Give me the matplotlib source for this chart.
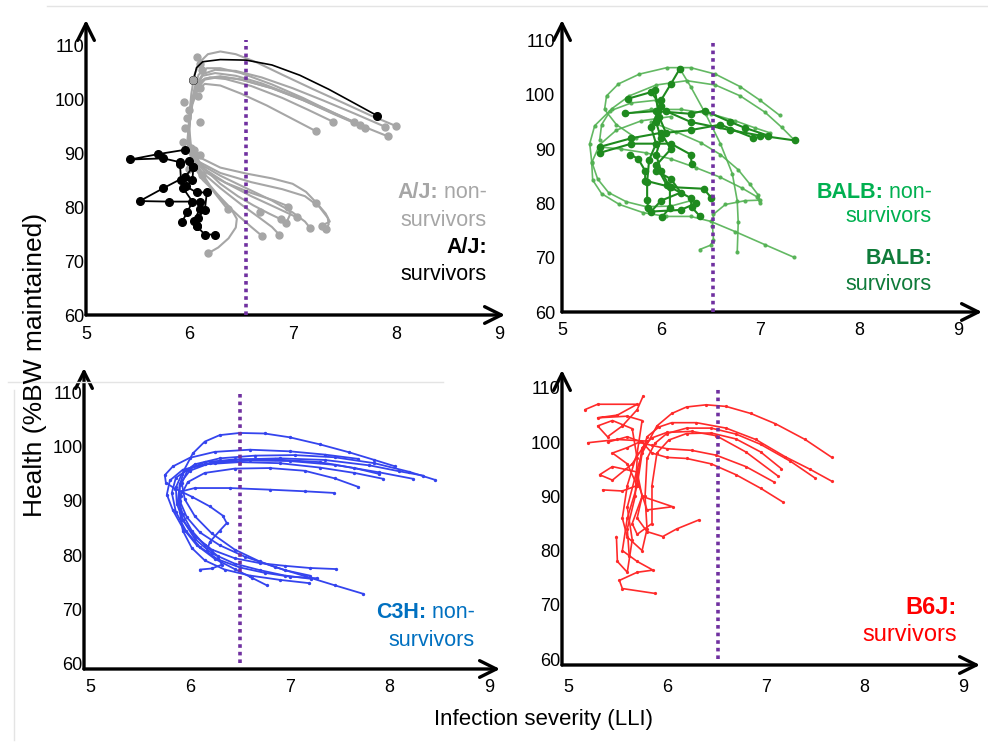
import matplotlib.pyplot as plt

plt.rcParams['font.family'] = ['Liberation Sans', 'DejaVu Sans']

# ---- data: (LLI, %BW) trajectories per strain ----
x_ticks = [5, 6, 7, 8, 9]
y_ticks = [60, 70, 80, 90, 100, 110]

aj_nonsurv = [
    [(8.0, 95.0), (7.75, 97), (7.5, 99.2), (7.2, 101.8), (6.9, 104.5), (6.65, 106.8), (6.45, 108.3), (6.3, 108.8),
     (6.18, 108.3), (6.1, 106.8), (6.05, 104.5), (6.02, 101), (6.0, 97), (5.99, 93.5), (6.02, 90.5), (6.1, 88.3),
     (6.3, 86.3), (6.6, 84.6), (6.9, 83.3), (7.12, 82), (7.26, 80), (7.34, 78), (7.35, 76.8), (7.32, 76.0)],
    [(7.92, 93.1), (7.7, 94.8), (7.4, 97.3), (7.1, 99.8), (6.8, 102), (6.5, 103.6), (6.3, 104.2), (6.15, 103.8),
     (6.08, 102.5), (6.03, 100), (6.0, 96.5), (5.99, 93), (6.02, 90), (6.1, 88), (6.3, 85.8), (6.55, 83.5),
     (6.8, 81.2), (7.0, 79), (7.12, 77.3), (7.17, 76.1)],
    [(7.89, 94.9), (7.6, 97.3), (7.3, 99.7), (7.0, 102), (6.7, 104), (6.45, 105.2), (6.25, 105.4), (6.13, 104.6),
     (6.07, 102.8), (6.03, 100), (6.0, 96), (5.99, 92.5), (6.03, 89.5), (6.15, 87), (6.35, 84.5), (6.6, 82),
     (6.85, 79.8), (7.04, 78.1)],
    [(7.70, 94.7), (7.4, 97.2), (7.1, 99.8), (6.8, 102), (6.5, 103.6), (6.3, 104.1), (6.15, 103.6), (6.08, 102),
     (6.03, 99.5), (6.0, 96), (5.98, 92), (6.02, 89), (6.12, 86.5), (6.3, 83.5), (6.5, 80.5), (6.68, 78),
     (6.8, 76.3), (6.87, 74.9)],
    [(7.65, 95.2), (7.4, 97.4), (7.1, 100.2), (6.8, 102.7), (6.5, 104.8), (6.3, 105.7), (6.17, 105.7), (6.09, 104.5),
     (6.05, 102), (6.02, 98.5), (6.0, 94.5), (6.02, 90.5), (6.08, 87.5), (6.2, 84), (6.33, 81), (6.48, 78.3),
     (6.6, 76.3), (6.70, 74.7)],
    [(7.59, 95.8), (7.3, 98.3), (7.0, 100.7), (6.7, 102.9), (6.45, 104.3), (6.25, 104.8), (6.13, 104.3), (6.07, 102.5),
     (6.03, 99.5), (6.0, 95.5), (5.99, 91.5), (6.03, 88), (6.13, 85), (6.28, 82.2), (6.4, 79.8), (6.46, 77.8),
     (6.45, 76.2), (6.38, 74.2), (6.28, 72.5), (6.18, 71.4)],
    [(7.39, 95.8), (7.15, 98), (6.9, 100.2), (6.6, 102.4), (6.35, 103.7), (6.2, 104), (6.1, 103.3), (6.05, 101.5),
     (6.02, 98.5), (6.0, 95), (6.0, 91), (6.05, 88), (6.15, 85), (6.27, 82), (6.37, 79.6)],
    [(7.23, 94.0), (7.0, 96.3), (6.75, 98.8), (6.5, 101), (6.3, 102.5), (6.15, 102.8), (6.08, 101.7), (6.03, 99),
     (6.0, 95.5), (5.99, 92), (6.03, 89), (6.15, 86.5), (6.35, 84.5), (6.6, 82.6), (6.82, 81.2), (6.95, 80.2),
     (6.98, 78.8), (6.94, 77.1)],
    [(6.02, 91), (6.12, 89), (6.3, 87.3), (6.55, 86.2), (6.8, 85.3), (7.0, 84.3), (7.13, 82.8), (7.23, 80.8),
     (7.32, 78.8), (7.36, 77.3), (7.28, 76.5)],
    [(6.05, 89.5), (6.15, 87), (6.3, 84.3), (6.47, 82), (6.62, 80.3), (6.77, 78.8), (6.89, 77.7)],
]
aj_stem_dots = [(6.07, 107.8), (6.1, 106.5), (6.12, 105.3), (6.05, 103.5), (6.1, 102), (6.08, 100.5), (5.95, 99.5),
                (6.0, 98), (5.98, 96.5), (6.1, 95.8), (5.96, 94.7), (5.94, 92), (6.05, 90.5), (6.1, 89.6),
                (6.02, 88.5), (6.0, 87), (6.12, 86), (7.23, 80.8), (6.68, 79.1), (6.96, 80.0)]
aj_surv = [
    [(5.96, 90.6), (5.7, 89.8), (5.43, 88.8), (5.75, 89.0), (5.91, 88.3), (5.91, 87.9), (5.92, 85), (5.94, 83.5),
     (6.03, 81.0), (5.98, 79), (5.93, 77.3)],
    [(6.04, 87.5), (5.96, 85.6), (5.75, 83.5), (5.52, 81.1), (5.8, 81.0), (6.10, 81.0), (6.1, 79.6), (6.05, 77.5),
     (6.07, 76.5), (6.15, 74.9), (6.25, 74.9)],
    [(6.0, 88.5), (6.04, 87.5), (6.03, 85), (5.97, 83.8), (6.07, 82.7), (6.17, 82.7), (6.15, 79.4), (6.08, 78),
     (6.07, 76.5)],
]
aj_surv_top = [(6.04, 103.5), (6.07, 105.8), (6.13, 106.9), (6.3, 107.3), (6.55, 107.2), (6.8, 106.3), (7.07, 104.4),
               (7.35, 101.8), (7.6, 99.2), (7.82, 96.9)]

balb_nonsurv = [
    [(5.75, 92), (5.55, 94.5), (5.43, 97.3), (5.45, 99.8), (5.57, 102), (5.78, 103.8), (6.06, 105), (6.3, 105),
     (6.55, 103.8), (6.8, 101.5), (7.0, 99), (7.2, 96.2)],
    [(5.38, 91.6), (5.4, 94.5), (5.5, 97.4), (5.68, 99.8), (5.95, 101.8), (6.26, 102.6), (6.55, 101.8), (6.8, 99.8),
     (7.05, 96.8), (7.22, 94), (7.35, 91.6)],
    [(6.1, 96), (5.8, 95.2), (5.55, 93.5), (5.38, 90.8), (5.3, 87.5), (5.31, 84.3), (5.4, 81.8), (5.58, 79.8),
     (5.82, 78.3), (6.05, 77.6), (6.3, 77.6), (6.5, 76.7), (6.75, 74.8), (7.05, 72.4), (7.34, 70.1)],
    [(5.9, 95), (6.15, 93.2), (6.4, 91.2), (6.6, 89), (6.78, 86.2), (6.9, 83.5), (6.98, 81.6), (7.0, 80.6),
     (6.85, 80.5), (6.65, 79.8), (6.53, 78), (6.52, 75.8), (6.53, 73.3), (6.5, 72.3), (6.39, 71.5)],
    [(6.19, 104.8), (6.3, 101.5), (6.45, 96.5), (6.6, 91), (6.72, 85.5), (6.77, 80.5), (6.78, 76.5), (6.77, 71.0)],
    [(5.38, 90.4), (5.6, 90), (5.85, 89.3), (6.1, 88.2), (6.35, 86.6), (6.6, 84.8), (6.82, 82.8), (6.97, 81.2),
     (7.0, 80.0)],
    [(5.95, 99), (5.7, 98.5), (5.48, 97), (5.33, 94.3), (5.28, 91), (5.3, 87.7), (5.36, 84.5), (5.47, 82),
     (5.65, 80.3), (5.85, 79.4), (6.1, 79.5), (6.3, 80.5)],
    [(5.65, 96.5), (5.9, 97.3), (6.2, 97.3), (6.5, 96.5), (6.75, 95.2), (6.95, 93.9), (7.1, 93.0)],
]
balb_surv = [
    [(5.94, 100.8), (5.97, 97), (5.9, 94), (5.95, 91), (5.88, 88), (5.86, 84), (5.86, 80.6), (5.87, 79.2)],
    [(5.67, 99.3), (5.9, 100.5), (6.0, 98), (5.95, 95), (6.0, 92), (5.95, 89), (6.0, 86), (6.09, 83), (6.09, 79.2),
     (6.01, 77.5)],
    [(5.64, 96.6), (5.95, 97), (6.3, 96.5), (6.44, 97.1), (6.7, 95), (6.85, 93.9), (7.08, 92.5)],
    [(5.38, 90.4), (5.7, 92), (6.0, 93), (6.1, 90), (5.95, 87), (6.06, 83.3), (6.3, 81), (6.31, 79.3), (6.39, 77.7)],
    [(5.38, 89.3), (5.7, 91), (6.1, 91), (6.3, 89), (6.31, 87.2)],
    [(5.69, 89.0), (5.77, 88.2), (5.84, 86), (5.84, 84.2), (6.1, 83), (6.43, 82.7), (6.51, 81.0)],
    [(6.19, 104.8), (6.1, 102), (6.0, 99), (5.98, 96), (6.05, 93), (6.3, 93.5), (6.6, 94.5), (6.93, 92.1)],
    [(6.05, 97), (6.3, 95), (6.7, 93.5), (7.0, 92.5), (7.35, 91.6)],
    [(5.95, 86), (6.1, 84.5), (6.2, 82), (6.0, 80.5), (5.9, 78.5), (6.2, 78.8), (6.35, 80)],
]

c3h_nonsurv = [
    [(7.74, 72.8), (7.45, 74.4), (7.15, 76.1), (6.85, 77.8), (6.55, 79.7), (6.3, 81.8), (6.1, 84.2), (5.97, 87),
     (5.9, 90), (5.9, 93), (5.95, 96), (6.03, 98.8), (6.15, 101), (6.3, 102.2), (6.5, 102.6), (6.75, 102.5),
     (7.0, 101.8), (7.3, 100.5), (7.6, 99), (7.85, 97.6), (8.06, 96.4)],
    [(7.46, 77.4), (7.2, 77.6), (6.95, 78), (6.7, 78.5), (6.45, 79.4), (6.22, 81), (6.05, 83.5), (5.93, 86.5),
     (5.87, 89.5), (5.86, 92.5), (5.92, 95), (6.05, 96.8), (6.3, 97.9), (6.65, 98.4), (7.05, 98.5), (7.45, 98.1),
     (7.85, 97), (8.2, 95.4), (8.46, 93.9)],
    [(7.21, 75.6), (6.95, 76.2), (6.7, 77.2), (6.45, 78.4), (6.22, 80.3), (6.05, 83), (5.93, 86.5), (5.88, 90),
     (5.9, 93.2), (6.0, 95.6), (6.2, 97), (6.5, 97.7), (6.9, 97.9), (7.35, 97.6), (7.8, 96.6), (8.1, 95.5),
     (8.34, 94.7)],
    [(7.27, 75.7), (7.0, 76), (6.75, 76.7), (6.5, 77.7), (6.28, 79.2), (6.1, 81.5), (5.96, 84.5), (5.86, 88),
     (5.82, 91.5), (5.86, 94.3), (6.0, 96.1), (6.25, 97.1), (6.6, 97.5), (7.0, 97.4), (7.45, 96.7), (7.9, 95.3),
     (8.24, 94.1)],
    [(6.77, 74.4), (6.62, 75.8), (6.45, 77.4), (6.25, 79.3), (6.07, 81.8), (5.93, 85), (5.83, 88.3), (5.77, 91.2),
     (5.8, 93.8), (5.93, 95.8), (6.15, 96.8), (6.5, 97.2), (6.9, 97), (7.3, 96.2), (7.65, 95.2), (7.94, 94.1)],
    [(7.19, 74.8), (6.9, 75.4), (6.6, 76.2), (6.35, 77.3), (6.15, 79), (6.02, 81.3), (5.93, 84.5), (5.9, 88),
     (5.91, 91), (5.98, 93.5), (6.15, 95.2), (6.45, 96), (6.8, 96.1), (7.15, 95.6), (7.45, 94.2), (7.69, 92.6)],
    [(6.1, 77.3), (6.22, 77.5), (6.32, 78.2), (6.28, 79.8), (6.15, 81.8), (6.02, 84.5), (5.93, 87.5), (5.89, 90),
     (5.92, 91.8), (6.05, 92.4), (6.4, 92.4), (6.8, 92.1), (7.15, 91.8), (7.44, 91.5)],
    [(7.69, 97.8), (7.35, 98.6), (7.0, 99.2), (6.6, 99.5), (6.25, 99.1), (6.0, 98), (5.83, 96.4), (5.75, 94.8),
     (5.76, 93.4), (5.85, 92.3), (6.02, 90.8), (6.2, 89), (6.33, 87.3), (6.37, 85.9), (6.3, 84.5), (6.2, 82.4),
     (6.17, 80.7)],
    [(7.2, 76.2), (6.95, 77.2), (6.7, 78.8), (6.45, 81), (6.22, 84), (6.05, 87.2), (5.95, 90.3), (5.92, 93.3),
     (5.98, 95.8), (6.15, 97.2), (6.45, 97.7), (6.85, 97.7), (7.3, 97.2), (7.65, 96.1), (7.9, 95)],
]

b6j_surv = [
    [(5.88, 72.1), (5.55, 73), (5.52, 74.5), (5.7, 76), (5.86, 76.4), (5.7, 78), (5.55, 80), (5.6, 86), (5.7, 92),
     (5.75, 98), (5.9, 103), (6.05, 105.3), (6.2, 106.5), (6.4, 106.9), (6.6, 106.6), (6.85, 105.3), (7.1, 103.4),
     (7.4, 100.5), (7.67, 97.2)],
    [(5.17, 106.0), (5.3, 107), (5.7, 107), (5.5, 105), (5.3, 104.5), (5.6, 104.8), (5.75, 104), (5.7, 98), (5.6, 92),
     (5.55, 86), (5.6, 82.5), (5.75, 80), (5.8, 84), (5.78, 90), (5.8, 97), (5.88, 99.8), (6.0, 101.6), (6.2, 102.6),
     (6.45, 102.6), (6.7, 101.5), (6.95, 99.6), (7.25, 96.5), (7.5, 93.4)],
    [(5.2, 99.9), (5.5, 100.5), (5.8, 100.2), (5.65, 96), (5.45, 93), (5.32, 94), (5.45, 95.5), (5.7, 94.5),
     (5.75, 90), (5.65, 85), (5.7, 83), (5.85, 85), (5.85, 92), (5.9, 98), (6.02, 100.4), (6.2, 101.6),
     (6.45, 101.7), (6.7, 100.6), (6.95, 98.2), (7.16, 95.1)],
    [(6.33, 85.7), (6.1, 84), (5.96, 82.6), (5.8, 83.5), (5.7, 86), (5.75, 90), (6.06, 88.1), (5.8, 87.5), (5.7, 93),
     (5.75, 99), (5.85, 100.8), (6.0, 101.8), (6.25, 102), (6.5, 101.2), (6.8, 98.2), (7.13, 93.7)],
    [(5.35, 91.2), (5.55, 91), (5.7, 92), (5.6, 96), (5.45, 98), (5.6, 99), (5.72, 100), (5.85, 99.4), (6.0, 98.8),
     (6.25, 98.5), (6.5, 97.6), (6.8, 95.5), (7.08, 92.7)],
    [(5.49, 82.6), (5.5, 78), (5.6, 76), (5.65, 82), (5.6, 88), (5.7, 95), (5.8, 101), (5.92, 102.8), (6.05, 103.6),
     (6.3, 103.6), (6.6, 102.6), (6.9, 100.5), (7.2, 97.3), (7.45, 95), (7.67, 92.8)],
    [(5.4, 100), (5.6, 101), (5.75, 100), (5.85, 98), (6.0, 97.2), (6.2, 97), (6.45, 96), (6.7, 94), (6.95, 91.5),
     (7.18, 88.9)],
    [(5.76, 108.5), (5.7, 106), (5.55, 103), (5.4, 101), (5.3, 103), (5.45, 104), (5.65, 102.5), (5.7, 97),
     (5.68, 90), (5.6, 84), (5.62, 79)],
]

# pixel geometry of each panel: spine x/y, x=5 px, px per LLI, y=60 px, px per %, arrow tips
panels = {
    'aj':   dict(sx=86, sy=315, x5=86, ppx=103.3, y60=315, ppy=5.4, tx=505, ty=20, thr=6.55, ytop=110.9, xpad=8, ypad=1),
    'balb': dict(sx=562, sy=312, x5=562, ppx=99.0, y60=312, ppy=5.43, tx=982, ty=20, thr=6.53, ytop=110.1, xpad=7, ypad=5),
    'c3h':  dict(sx=84, sy=669, x5=90, ppx=99.8, y60=663, ppy=5.4, tx=500, ty=368, thr=6.5, ytop=109.8, xpad=7, ypad=1),
    'b6j':  dict(sx=562, sy=665, x5=568, ppx=98.8, y60=659, ppy=5.42, tx=980, ty=370, thr=6.52, ytop=110.2, xpad=10, ypad=1),
}

W, H = 988, 744
fig = plt.figure(figsize=(W / 100, H / 100), dpi=100)


def make_panel(p):
    x0 = 5 + (p['sx'] - p['x5']) / p['ppx']
    x1 = 5 + (p['tx'] - p['x5']) / p['ppx']
    y0 = 60 + (p['y60'] - p['sy']) / p['ppy']
    y1 = 60 + (p['y60'] - p['ty']) / p['ppy']
    ax = fig.add_axes([p['sx'] / W, 1 - p['sy'] / H, (p['tx'] - p['sx']) / W, (p['sy'] - p['ty']) / H])
    ax.set_xlim(x0, x1)
    ax.set_ylim(y0, y1)
    for s in ax.spines.values():
        s.set_visible(False)
    ax.patch.set_alpha(0)
    ax.set_xticks(x_ticks)
    ax.set_yticks(y_ticks)
    ax.tick_params(axis='x', length=0, labelsize=13, pad=p['xpad'])
    ax.tick_params(axis='y', length=0, labelsize=13, pad=p['ypad'])
    arrow = dict(arrowstyle='->,head_length=0.6,head_width=0.3', lw=2.4, color='black',
                 shrinkA=0, shrinkB=0, mutation_scale=20)
    ax.annotate('', xy=(1, 0), xytext=(0, 0), xycoords='axes fraction', arrowprops=arrow, annotation_clip=False)
    ax.annotate('', xy=(0, 1), xytext=(0, 0), xycoords='axes fraction', arrowprops=arrow, annotation_clip=False)
    ax.plot([p['thr'], p['thr']], [60, p['ytop']], color='#7030a0', lw=2.6, linestyle=(0, (1, 1.1)), zorder=5)
    return ax


def draw(ax, trajs, color, lw, ms, every='all', alpha=1.0, z=2):
    for t in trajs:
        xs, ys = zip(*t)
        mk = None if every == 'all' else [0, len(t) - 1]
        ax.plot(xs, ys, color=color, lw=lw, marker='o', ms=ms, markevery=mk, alpha=alpha,
                solid_joinstyle='round', solid_capstyle='round', zorder=z)


def label(ax, x, y, bold, rest, color, size=15.5):
    # right-aligned line: optional bold strain name followed by regular text
    pos = dict(xy=(x / W, 1 - y / H), xycoords='figure fraction', ha='right', va='center', annotation_clip=False)
    if rest is None:
        ax.annotate(bold, color=color, fontsize=size, fontweight='bold', **pos)
        return
    t = ax.annotate(rest, color=color, fontsize=size, **pos)
    if bold:
        ax.annotate(bold, xy=(0, 0), xycoords=t, ha='right', va='bottom', color=color, fontsize=size,
                    fontweight='bold', annotation_clip=False)


# A/J
ax = make_panel(panels['aj'])
draw(ax, aj_nonsurv, '#a6a6a6', 1.5, 5.0, every='ends')
sx, sy = zip(*aj_stem_dots)
ax.plot(sx, sy, 'o', color='#a6a6a6', ms=5.0, zorder=2)
draw(ax, aj_surv, '#000000', 1.3, 5.5, z=3)
draw(ax, [aj_surv_top], '#000000', 1.2, 5.5, every='ends', z=3)
ax.plot([aj_surv_top[0][0]], [aj_surv_top[0][1]], 'o', color='#a6a6a6', ms=5.0, zorder=4)
label(ax, 487, 192, 'A/J:', ' non-', '#a6a6a6')
label(ax, 487, 220, None, 'survivors', '#a6a6a6')
label(ax, 487, 248, 'A/J:', None, '#000000')
label(ax, 487, 275, None, 'survivors', '#000000')

# BALB
ax = make_panel(panels['balb'])
draw(ax, balb_nonsurv, '#52b152', 1.2, 2.0, alpha=0.9)
draw(ax, balb_surv, '#1e8a1e', 1.5, 4.5, z=3)
label(ax, 932, 192, 'BALB:', ' non-', '#00b050')
label(ax, 932, 217, None, 'survivors', '#00b050')
label(ax, 932, 258, 'BALB:', None, '#0f7b3a')
label(ax, 932, 285, None, 'survivors', '#0f7b3a')

# C3H
ax = make_panel(panels['c3h'])
draw(ax, c3h_nonsurv, '#3444ee', 1.3, 1.4)
label(ax, 475, 612, 'C3H:', ' non-', '#0070c0')
label(ax, 475, 640, None, 'survivors', '#0070c0')

# B6J
ax = make_panel(panels['b6j'])
draw(ax, b6j_surv, '#ff2a2a', 1.2, 1.3)
label(ax, 957, 607, 'B6J:', None, '#ff0000', size=17)
label(ax, 957, 635, None, 'survivors', '#ff0000', size=17)

# shared axis titles
fig.text(35 / W, 1 - 365 / H, 'Health (%BW maintained)', rotation=90, ha='center', va='center', fontsize=19)
fig.text(543 / W, 1 - 720 / H, 'Infection severity (LLI)', ha='center', va='center', fontsize=16)

# faint frame lines of the pasted panels
for (xa, xb, ya, yb) in [(47, 988, 6, 6), (8, 443, 382, 382), (14, 14, 390, 740)]:
    fig.add_artist(plt.Line2D([xa / W, xb / W], [1 - ya / H, 1 - yb / H], color='#e4e4e4', lw=1))

fig.savefig('out.png', dpi=100)
